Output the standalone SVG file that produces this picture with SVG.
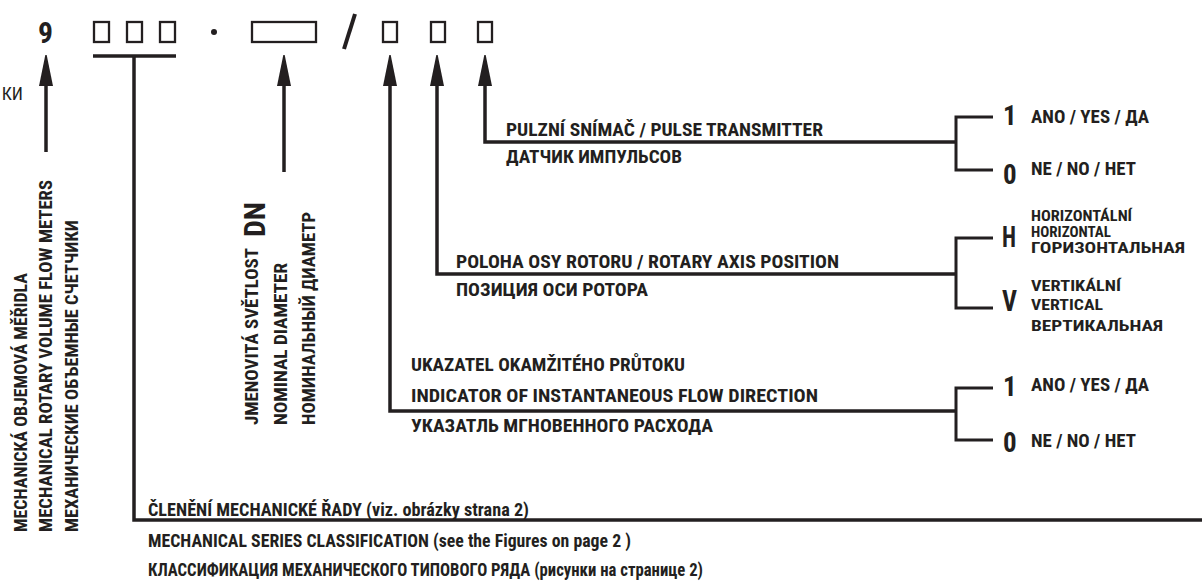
<svg xmlns="http://www.w3.org/2000/svg" width="1202" height="585" viewBox="0 0 1202 585">
<defs>
<marker id="ah" markerUnits="userSpaceOnUse" markerWidth="32" markerHeight="14" refX="0" refY="7" orient="auto" viewBox="0 0 32 14">
<path d="M0,0 L31,6.3 L31,7.7 L0,14 z" fill="#231f20"/>
</marker>
<style>
text{font-family:'Liberation Sans Narrow','Roboto Condensed','DejaVu Sans Condensed','Liberation Sans',sans-serif;font-weight:bold;fill:#231f20}
.lb{font-size:18px}
.sm{font-size:14px}
.big{font-size:27px}
.hv{font-size:30px}
.reg{font-weight:normal;font-size:18px}
.ln{fill:none;stroke:#231f20;stroke-width:3.5}
.br{fill:none;stroke:#231f20;stroke-width:3}
.box{fill:none;stroke:#231f20;stroke-width:2.3}
</style>
</defs>
<rect width="1202" height="585" fill="#ffffff"/>

<g id="code">
<text x="45.5" y="43" text-anchor="middle" style="font-size:30px" textLength="15" lengthAdjust="spacingAndGlyphs">9</text>
<rect class="box" x="94" y="22" width="15" height="20"/>
<rect class="box" x="127" y="22" width="15" height="20"/>
<rect class="box" x="160" y="22" width="15" height="20"/>
<circle cx="214" cy="32" r="3" fill="#231f20"/>
<rect class="box" x="252" y="22" width="64" height="20"/>
<line x1="355" y1="14" x2="344" y2="49" stroke="#231f20" stroke-width="4"/>
<rect class="box" x="383" y="22" width="14" height="20"/>
<rect class="box" x="431" y="22" width="14" height="20"/>
<rect class="box" x="478" y="22" width="14" height="20"/>
</g>

<g id="connectors">
<path class="ln" d="M46,152 V86" marker-end="url(#ah)"/>
<path class="ln" d="M93,56 H176"/>
<path class="ln" d="M134,56 V520 H1202"/>
<path class="ln" d="M284,172 V86" marker-end="url(#ah)"/>
<path class="ln" d="M956,411 H390 V86" marker-end="url(#ah)"/>
<path class="ln" d="M956,274 H437 V86" marker-end="url(#ah)"/>
<path class="ln" d="M956,142 H485 V86" marker-end="url(#ah)"/>
<path class="br" d="M993,117 H956 V170 H993"/>
<path class="br" d="M993,238 H956 V308 H993"/>
<path class="br" d="M993,388 H956 V440 H993"/>
</g>

<g id="cut-label">
<text class="reg" x="23" y="100" text-anchor="end">КИ</text>
</g>

<g id="meters-label">
<text class="lb" transform="translate(27,532) rotate(-90)" textLength="259" lengthAdjust="spacingAndGlyphs">MECHANICKÁ OBJEMOVÁ MĚŘIDLA</text>
<text class="lb" transform="translate(52,532) rotate(-90)" textLength="352" lengthAdjust="spacingAndGlyphs">MECHANICAL ROTARY VOLUME FLOW METERS</text>
<text class="lb" transform="translate(78,532) rotate(-90)" textLength="312" lengthAdjust="spacingAndGlyphs">МЕХАНИЧЕСКИЕ ОБЪЕМНЫЕ СЧЕТЧИКИ</text>
</g>

<g id="dn-label">
<text class="lb" transform="translate(258,425) rotate(-90)" textLength="177" lengthAdjust="spacingAndGlyphs">JMENOVITÁ SVĚTLOST</text>
<text transform="translate(265,237) rotate(-90)" style="font-size:30px" textLength="35" lengthAdjust="spacingAndGlyphs">DN</text>
<text class="lb" transform="translate(287,425) rotate(-90)" textLength="162" lengthAdjust="spacingAndGlyphs">NOMINAL DIAMETER</text>
<text class="lb" transform="translate(315,425) rotate(-90)" textLength="213" lengthAdjust="spacingAndGlyphs">НОМИНАЛЬНЫЙ ДИАМЕТР</text>
</g>

<g id="pulse-label">
<text class="lb" x="506" y="136" textLength="317" lengthAdjust="spacingAndGlyphs">PULZNÍ SNÍMAČ / PULSE TRANSMITTER</text>
<text class="lb" x="506" y="163" textLength="176" lengthAdjust="spacingAndGlyphs">ДАТЧИК ИМПУЛЬСОВ</text>
</g>

<g id="pulse-options">
<text class="big" x="1003" y="125">1</text>
<text class="lb" x="1031" y="123" textLength="118" lengthAdjust="spacingAndGlyphs">ANO / YES / ДА</text>
<text class="big" x="1003" y="184">0</text>
<text class="lb" x="1031" y="175" textLength="105" lengthAdjust="spacingAndGlyphs">NE / NO / HET</text>
</g>

<g id="axis-label">
<text class="lb" x="456" y="268" textLength="383" lengthAdjust="spacingAndGlyphs">POLOHA OSY ROTORU / ROTARY AXIS POSITION</text>
<text class="lb" x="456" y="296" textLength="192" lengthAdjust="spacingAndGlyphs">ПОЗИЦИЯ ОСИ РОТОРА</text>
</g>

<g id="axis-options">
<text class="hv" x="1002" y="247" textLength="14" lengthAdjust="spacingAndGlyphs">H</text>
<text class="sm" x="1031" y="221" textLength="101" lengthAdjust="spacingAndGlyphs">HORIZONTÁLNÍ</text>
<text class="sm" x="1031" y="237" textLength="80" lengthAdjust="spacingAndGlyphs">HORIZONTAL</text>
<text class="sm" x="1031" y="253" textLength="154" lengthAdjust="spacingAndGlyphs">ГОРИЗОНТАЛЬНАЯ</text>
<text class="hv" x="1002" y="311" textLength="15" lengthAdjust="spacingAndGlyphs">V</text>
<text class="sm" x="1031" y="291" textLength="90" lengthAdjust="spacingAndGlyphs">VERTIKÁLNÍ</text>
<text class="sm" x="1031" y="310" textLength="72" lengthAdjust="spacingAndGlyphs">VERTICAL</text>
<text class="sm" x="1031" y="331" textLength="132" lengthAdjust="spacingAndGlyphs">ВЕРТИКАЛЬНАЯ</text>
</g>

<g id="flow-label">
<text class="lb" x="411" y="371" textLength="274" lengthAdjust="spacingAndGlyphs">UKAZATEL OKAMŽITÉHO PRŮTOKU</text>
<text class="lb" x="411" y="402" textLength="407" lengthAdjust="spacingAndGlyphs">INDICATOR OF INSTANTANEOUS FLOW DIRECTION</text>
<text class="lb" x="411" y="432" textLength="302" lengthAdjust="spacingAndGlyphs">УКАЗАТЛЬ МГНОВЕННОГО РАСХОДА</text>
</g>

<g id="flow-options">
<text class="big" x="1003" y="396">1</text>
<text class="lb" x="1031" y="391" textLength="118" lengthAdjust="spacingAndGlyphs">ANO / YES / ДА</text>
<text class="big" x="1003" y="452">0</text>
<text class="lb" x="1031" y="447" textLength="105" lengthAdjust="spacingAndGlyphs">NE / NO / HET</text>
</g>

<g id="series-label">
<text class="lb" x="148" y="516" textLength="381" lengthAdjust="spacingAndGlyphs">ČLENĚNÍ MECHANICKÉ ŘADY (viz. obrázky strana 2)</text>
<text class="lb" x="148" y="547" textLength="483" lengthAdjust="spacingAndGlyphs">MECHANICAL SERIES CLASSIFICATION (see the Figures on page 2 )</text>
<text class="lb" x="148" y="576" textLength="555" lengthAdjust="spacingAndGlyphs">КЛАССИФИКАЦИЯ МЕХАНИЧЕСКОГО ТИПОВОГО РЯДА (рисунки на странице 2)</text>
</g>
</svg>
